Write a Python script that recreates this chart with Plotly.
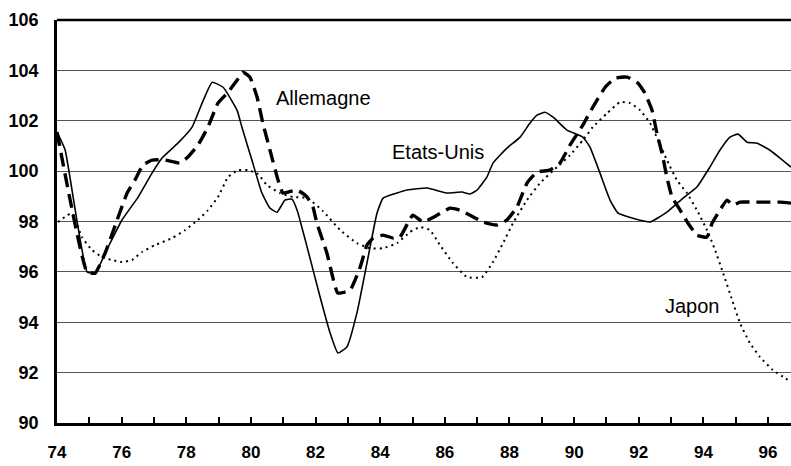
import plotly.graph_objects as go

# Etats-Unis (solid)
us_x = [74.0, 74.25, 74.93, 75.18, 75.58, 76.01, 76.51, 76.94, 77.25, 77.74, 78.18, 78.49, 78.80, 79.14,
        79.57, 79.72, 80.03, 80.34, 80.59, 80.81, 81.05, 81.27, 81.43, 81.74, 82.14, 82.45, 82.69, 82.97,
        83.28, 83.59, 83.90, 84.09, 84.52, 84.83, 85.45, 86.07, 86.53, 86.78, 87.0, 87.30, 87.49, 87.92,
        88.33, 88.63, 88.85, 89.10, 89.35, 89.78, 90.27, 90.49, 90.80, 91.11, 91.36, 91.82, 92.35, 92.87,
        93.37, 93.80, 94.20, 94.51, 94.82, 95.07, 95.35, 95.66, 96.06, 96.37, 96.71]
us_y = [101.55, 100.85, 96.0, 95.95, 96.98, 98.06, 98.97, 99.92, 100.52, 101.11, 101.75, 102.70, 103.53, 103.33,
        102.42, 101.75, 100.44, 99.13, 98.53, 98.37, 98.85, 98.89, 98.45, 96.98, 95.0, 93.57, 92.78, 93.02,
        94.37, 96.35, 98.33, 98.93, 99.13, 99.25, 99.33, 99.13, 99.17, 99.09, 99.25, 99.76, 100.32, 100.91,
        101.35, 101.90, 102.22, 102.34, 102.14, 101.63, 101.35, 100.95, 99.92, 98.85, 98.33, 98.13, 97.98, 98.37,
        98.93, 99.37, 100.16, 100.83, 101.35, 101.47, 101.15, 101.11, 100.83, 100.52, 100.16]

# Allemagne (dashed)
de_x = [74.0, 74.93, 75.18, 75.49, 75.86, 76.17, 76.41, 76.66, 76.94, 77.34, 77.81, 78.05, 78.36, 78.67,
        78.98, 79.29, 79.57, 79.75, 79.97, 80.19, 80.37, 80.59, 80.84, 80.99, 81.43, 81.74, 81.92, 82.04,
        82.35, 82.69, 83.07, 83.38, 83.59, 83.78, 84.09, 84.40, 84.61, 85.01, 85.32, 85.76, 86.16, 86.47,
        86.78, 87.18, 87.61, 87.92, 88.23, 88.54, 88.85, 89.25, 89.56, 89.87, 90.27, 90.58, 90.96, 91.27,
        91.64, 91.98, 92.19, 92.41, 92.56, 92.72, 92.87, 93.03, 93.28, 93.52, 93.80, 94.11, 94.27, 94.51,
        94.73, 94.92, 95.13, 95.53, 95.97, 96.37, 96.71]
de_y = [101.55, 96.0, 95.95, 96.75, 98.06, 99.13, 99.64, 100.24, 100.44, 100.44, 100.32, 100.56, 101.03, 101.75,
        102.70, 103.13, 103.61, 103.93, 103.73, 102.94, 101.90, 100.83, 99.64, 99.13, 99.25, 98.97, 98.57, 97.94,
        96.75, 95.16, 95.28, 96.19, 97.06, 97.34, 97.46, 97.34, 97.38, 98.25, 97.98, 98.25, 98.53, 98.45,
        98.25, 97.98, 97.86, 98.06, 98.57, 99.52, 99.96, 100.04, 100.32, 101.03, 101.83, 102.54, 103.33, 103.69,
        103.73, 103.49, 103.10, 102.42, 101.51, 100.71, 99.76, 98.97, 98.45, 97.94, 97.46, 97.38, 97.94, 98.45,
        98.85, 98.65, 98.77, 98.77, 98.77, 98.77, 98.73]

# Japon (dotted)
jp_x = [74.03, 74.46, 74.77, 75.08, 75.39, 75.70, 76.01, 76.32, 76.63, 77.03, 77.56, 77.96, 78.36, 78.67,
        78.98, 79.29, 79.60, 79.91, 80.22, 80.50, 80.90, 81.30, 81.74, 82.23, 82.76, 83.28, 83.68, 84.09,
        84.52, 84.92, 85.23, 85.54, 85.85, 86.25, 86.69, 87.15, 87.49, 87.80, 88.11, 88.54, 88.94, 89.47,
        89.87, 90.27, 90.58, 91.02, 91.42, 91.73, 92.04, 92.35, 92.60, 92.87, 93.18, 93.49, 93.80, 94.11,
        94.36, 94.61, 94.89, 95.13, 95.44, 95.75, 96.15, 96.52, 96.71]
jp_y = [97.98, 98.33, 97.38, 96.87, 96.59, 96.47, 96.39, 96.47, 96.79, 97.06, 97.34, 97.66, 98.06, 98.45,
        98.97, 99.76, 100.04, 100.04, 99.88, 99.44, 99.13, 98.97, 98.93, 98.41, 97.66, 97.14, 96.94, 96.94,
        97.14, 97.58, 97.78, 97.66, 97.06, 96.35, 95.79, 95.79, 96.39, 97.14, 97.94, 98.85, 99.52, 100.16,
        100.63, 101.23, 101.75, 102.30, 102.74, 102.70, 102.42, 101.90, 101.23, 100.44, 99.64, 99.13, 98.45, 97.66,
        96.87, 95.95, 94.88, 93.97, 93.17, 92.62, 92.10, 91.79, 91.63]

x_ticks = list(range(74, 97))
x_labels = [str(v) if v % 2 == 0 else "" for v in x_ticks]
y_ticks = list(range(90, 107, 2))

series_names = ["Allemagne", "Etats-Unis", "Japon"]

fig = go.Figure()
fig.add_trace(go.Scatter(x=us_x, y=us_y, mode="lines", name=series_names[1],
                         line=dict(color="black", width=1.6, shape="spline", smoothing=0.4)))
fig.add_trace(go.Scatter(x=de_x, y=de_y, mode="lines", name=series_names[0],
                         line=dict(color="black", width=3.4, dash="14px,7px", shape="spline", smoothing=0.4)))
fig.add_trace(go.Scatter(x=jp_x, y=jp_y, mode="lines", name=series_names[2],
                         line=dict(color="black", width=2, dash="2px,4px", shape="spline", smoothing=0.4)))

lab_font = dict(family="Liberation Sans, Arial, sans-serif", size=20, color="black")
fig.add_annotation(x=82.23, y=102.9, text=series_names[0], showarrow=False, font=lab_font)
fig.add_annotation(x=85.79, y=100.75, text=series_names[1], showarrow=False, font=lab_font)
fig.add_annotation(x=93.65, y=94.64, text=series_names[2], showarrow=False, font=lab_font)

# top border
fig.add_shape(type="line", xref="paper", yref="paper", x0=0, x1=1, y0=1, y1=1,
              line=dict(color="black", width=2.5))

fig.update_layout(
    width=791, height=466,
    margin=dict(l=57, r=0, t=20, b=43, autoexpand=False),
    paper_bgcolor="white", plot_bgcolor="white",
    showlegend=False,
    xaxis=dict(range=[74, 96.71], tickvals=x_ticks, ticktext=x_labels, automargin=False,
               ticks="inside", ticklen=6, tickwidth=2, tickcolor="black",
               showline=True, linecolor="black", linewidth=2.5, showgrid=False, zeroline=False,
               ticklabelstandoff=12,
               tickfont=dict(family="Liberation Sans, Arial, sans-serif", size=17, color="black", weight="bold")),
    yaxis=dict(range=[90, 106], tickvals=y_ticks, ticks="", automargin=False,
               showline=True, linecolor="black", linewidth=2.5,
               showgrid=True, gridcolor="#555", gridwidth=1, zeroline=False,
               ticklabelstandoff=12,
               tickfont=dict(family="Liberation Sans, Arial, sans-serif", size=18, color="black", weight="bold")),
)

fig.write_html("out.html", config={"displayModeBar": False},
               post_script="document.body.style.margin='0';document.body.style.overflow='hidden';")
